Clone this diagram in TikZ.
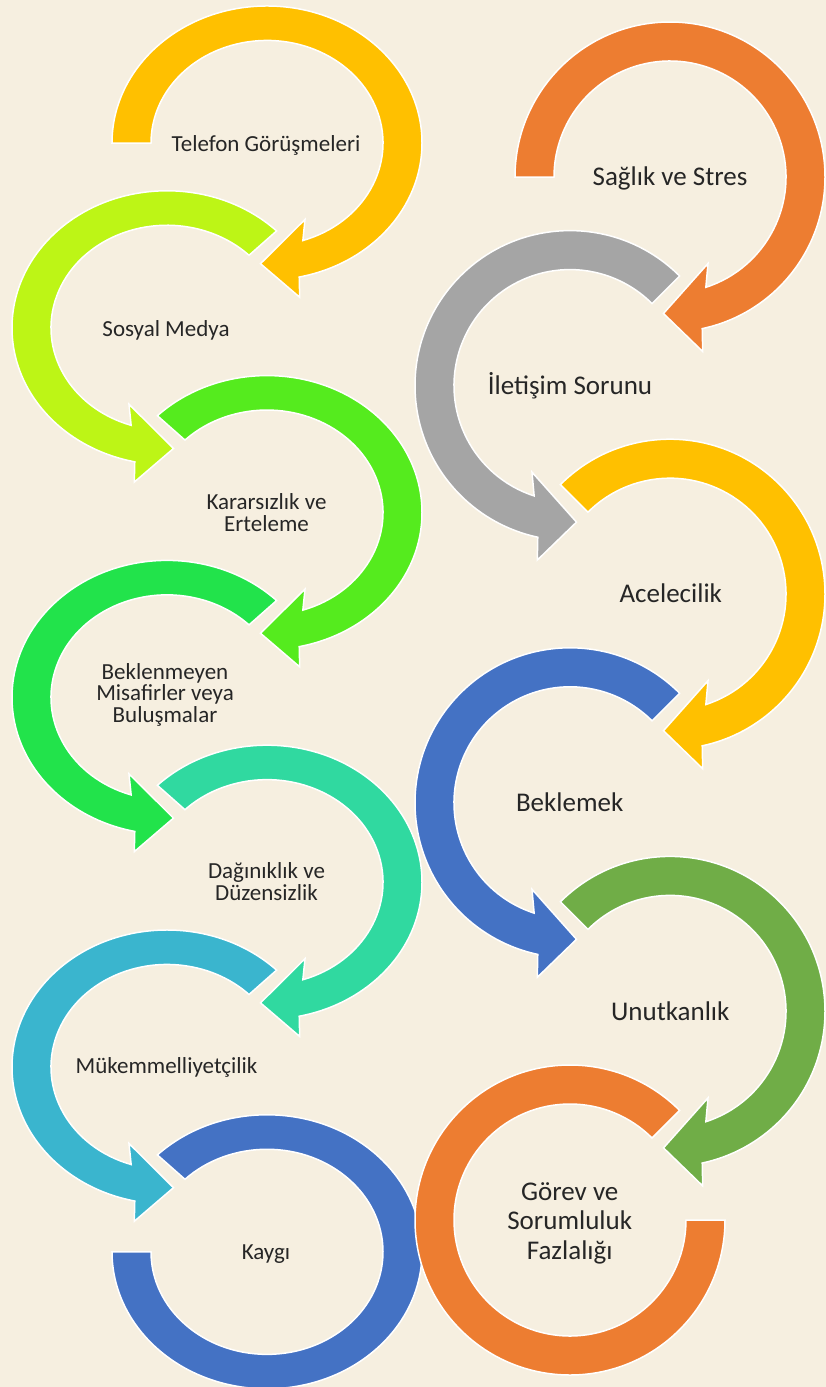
\documentclass[tikz,border=0pt]{standalone}
\usepackage{fontspec}
\setmainfont{Carlito}
\definecolor{bg}{HTML}{F6EFE0}
\definecolor{txt}{HTML}{262626}
\definecolor{cTel}{HTML}{FFC000}
\definecolor{cSos}{HTML}{BDF516}
\definecolor{cKar}{HTML}{55EB1E}
\definecolor{cBek}{HTML}{22E34B}
\definecolor{cDag}{HTML}{30D9A0}
\definecolor{cMuk}{HTML}{3AB5CE}
\definecolor{cKay}{HTML}{4472C4}
\definecolor{cSag}{HTML}{ED7D31}
\definecolor{cIle}{HTML}{A5A5A5}
\definecolor{cAce}{HTML}{FFC000}
\definecolor{cBkl}{HTML}{4472C4}
\definecolor{cUnu}{HTML}{70AD47}
\definecolor{cGor}{HTML}{ED7D31}
\tikzset{
  ring/.style={fill=#1, draw=white, line width=1.5pt, line join=miter},
  lblL/.style={text=txt, font=\fontsize{23}{21.7}\selectfont, align=center, inner sep=0pt, anchor=base},
  lblR/.style={text=txt, font=\fontsize{27}{29.6}\selectfont, align=center, inner sep=0pt, anchor=base}
}
% clockwise ring, tail at #1 degrees, head at the bottom pointing left
\newcommand{\cwArrowRing}[2]{%
  \path[ring=#2] (#1:155) arc[start angle=#1, end angle=-78, radius=155]
    -- (32.7,-174.5) -- (-6.5,-136.5) -- (38,-86.5) -- (-72:116)
    arc[start angle=-72, end angle=#1, radius=116] -- cycle;}
% last ring: from #1 clockwise round to 180 degrees, flat end
\newcommand{\cwLastRing}[2]{%
  \path[ring=#2] (#1:155) arc[start angle=#1, end angle=-180, radius=155]
    -- (-180:116) arc[start angle=-180, end angle=#1, radius=116] -- cycle;}
\begin{document}
\begin{tikzpicture}[x=1pt,y=1pt]
\useasboundingbox (0,0) rectangle (826,-1387);
\fill[bg] (0,0) rectangle (826,-1387);
% ---------- left column ----------
\begin{scope}[shift={(267,-143)}, yscale=0.884] \cwArrowRing{180}{cTel} \end{scope}
\begin{scope}[shift={(167,-327.8)}, xscale=-1, yscale=0.884] \cwArrowRing{135}{cSos} \end{scope}
\begin{scope}[shift={(267,-512.6)}, yscale=0.884] \cwArrowRing{135}{cKar} \end{scope}
\begin{scope}[shift={(167,-697.4)}, xscale=-1, yscale=0.884] \cwArrowRing{135}{cBek} \end{scope}
\begin{scope}[shift={(267,-882.2)}, yscale=0.884] \cwArrowRing{135}{cDag} \end{scope}
\begin{scope}[shift={(167,-1067)}, xscale=-1, yscale=0.884] \cwArrowRing{135}{cMuk} \end{scope}
\begin{scope}[shift={(267,-1251.8)}, yscale=0.884] \cwLastRing{135}{cKay} \end{scope}
% ---------- right column ----------
\begin{scope}[shift={(670,-177)}] \cwArrowRing{180}{cSag} \end{scope}
\begin{scope}[shift={(570,-385.6)}, xscale=-1] \cwArrowRing{135}{cIle} \end{scope}
\begin{scope}[shift={(670,-594.2)}] \cwArrowRing{135}{cAce} \end{scope}
\begin{scope}[shift={(570,-802.8)}, xscale=-1] \cwArrowRing{135}{cBkl} \end{scope}
\begin{scope}[shift={(670,-1011.4)}] \cwArrowRing{135}{cUnu} \end{scope}
\begin{scope}[shift={(570,-1220)}, xscale=-1] \cwLastRing{135}{cGor} \end{scope}
% ---------- labels (base = baseline of the last line) ----------
\node[lblL] (tel) at (266,-151.5) {Telefon Görüşmeleri};
\node[lblL] (sos) at (166,-336) {Sosyal Medya};
\node[lblL] (kar) at (266.5,-531) {Kararsızlık ve\\Erteleme};
\node[lblL] (bek) at (165,-722.5) {Beklenmeyen\\Misafirler veya\\Buluşmalar};
\node[lblL] (dag) at (266.5,-900) {Dağınıklık ve\\Düzensizlik};
\node[lblL] (muk) at (166.5,-1073.3) {Mükemmelliyetçilik};
\node[lblL] (kay) at (266,-1259.3) {Kaygı};
\node[lblR] (sag) at (670,-185) {Sağlık ve Stres};
\node[lblR] (ile) at (570,-394) {İletişim Sorunu};
\node[lblR] (ace) at (670.8,-602.7) {Acelecilik};
\node[lblR] (bkl) at (569.7,-811.7) {Beklemek};
\node[lblR] (unu) at (670.3,-1020.7) {Unutkanlık};
\node[lblR] (gor) at (569.7,-1259.3) {Görev ve\\Sorumluluk\\Fazlalığı};
\end{tikzpicture}
\end{document}
